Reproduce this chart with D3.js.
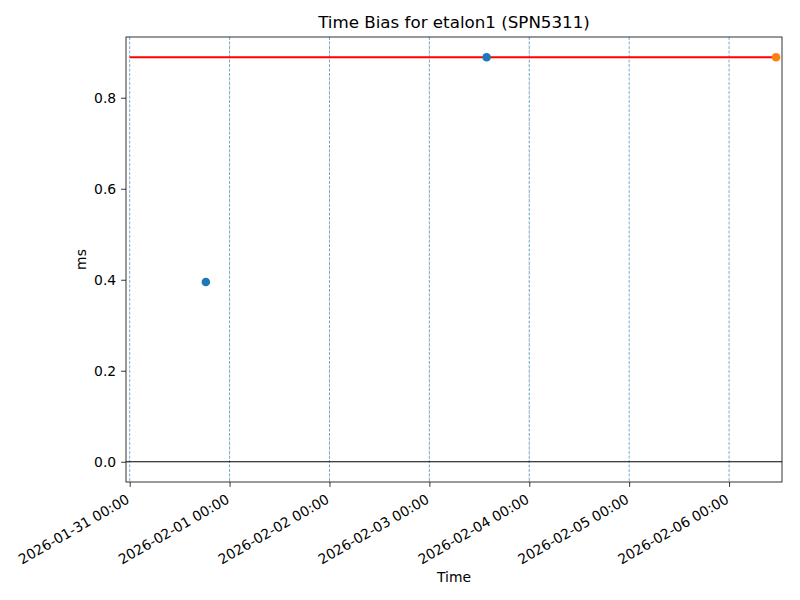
<!DOCTYPE html>
<html>
<head>
  <script src="https://d3js.org/d3.v7.min.js"></script>
  <style>
    body { margin: 0; background: #fff; }
    text { font-family: "DejaVu Sans", sans-serif; }
  </style>
</head>
<body>
  <svg width="800" height="600"></svg>
  <script>
    var parse = d3.utcParse("%Y-%m-%d %H:%M");

    // measurements
    var blueTimes = ["2026-01-31 18:18", "2026-02-03 13:45"];
    var blueValues = [0.395, 0.889];
    var orangeTimes = ["2026-02-06 11:17"];
    var orangeValues = [0.889];
    // reference level
    var refTimes = ["2026-01-31 00:00", "2026-02-06 11:17"];
    var refValues = [0.889, 0.889];
    var dayTicks = ["2026-01-31 00:00", "2026-02-01 00:00", "2026-02-02 00:00", "2026-02-03 00:00",
                    "2026-02-04 00:00", "2026-02-05 00:00", "2026-02-06 00:00"];
    var grayDays = ["2026-02-01 00:00", "2026-02-02 00:00", "2026-02-03 00:00", "2026-02-04 00:00"];
    var yTicks = [0.0, 0.2, 0.4, 0.6, 0.8];

    var svg = d3.select("svg"),
      margin = {top: 37, right: 18, bottom: 118, left: 126},
      width = +svg.attr("width") - margin.left - margin.right,
      height = +svg.attr("height") - margin.top - margin.bottom;

    var x = d3.scaleUtc()
      .domain([parse("2026-01-30 23:07"), parse("2026-02-06 12:43")])
      .range([0, width]);
    var y = d3.scaleLinear().domain([-0.0445, 0.9335]).range([height, 0]);

    var g = svg.append("g")
      .attr("transform", "translate(" + margin.left + "," + margin.top + ")");

    // day lines
    g.selectAll(".day").data(dayTicks).enter().append("line")
      .attr("x1", function(d) { return x(parse(d)); })
      .attr("x2", function(d) { return x(parse(d)); })
      .attr("y1", 0).attr("y2", height)
      .attr("stroke", "#1f77b4").attr("stroke-width", 0.8)
      .attr("stroke-opacity", 0.75)
      .attr("stroke-dasharray", "3,1.5");
    g.selectAll(".gday").data(grayDays).enter().append("line")
      .attr("x1", function(d) { return x(parse(d)); })
      .attr("x2", function(d) { return x(parse(d)); })
      .attr("y1", 0).attr("y2", height)
      .attr("stroke", "#888").attr("stroke-width", 0.5)
      .attr("stroke-dasharray", "2,2").attr("stroke-opacity", 0.5);

    // zero line
    g.append("line")
      .attr("x1", 0).attr("x2", width)
      .attr("y1", y(0)).attr("y2", y(0))
      .attr("stroke", "#000").attr("stroke-width", 1);

    // reference line
    var refData = refTimes.map(function(t, i) { return [parse(t), refValues[i]]; });
    g.append("path")
      .datum(refData)
      .attr("fill", "none").attr("stroke", "red").attr("stroke-width", 2)
      .attr("d", d3.line().x(function(d) { return x(d[0]); }).y(function(d) { return y(d[1]); }));

    g.selectAll(".blue").data(blueTimes).enter().append("circle")
      .attr("cx", function(d) { return x(parse(d)); })
      .attr("cy", function(d, i) { return y(blueValues[i]); })
      .attr("r", 4.3).attr("fill", "#1f77b4");
    g.selectAll(".orange").data(orangeTimes).enter().append("circle")
      .attr("cx", function(d) { return x(parse(d)); })
      .attr("cy", function(d, i) { return y(orangeValues[i]); })
      .attr("r", 4.3).attr("fill", "#ff7f0e");

    // axes
    var fmt = d3.utcFormat("%Y-%m-%d %H:%M");
    var xAxis = g.append("g")
      .attr("transform", "translate(0," + height + ")")
      .call(d3.axisBottom(x).tickValues(dayTicks.map(parse)).tickFormat(fmt)
        .tickSize(4.9).tickPadding(4.9));
    xAxis.selectAll("text")
      .attr("font-size", "13.9px").attr("fill", "#000")
      .attr("text-anchor", "end")
      .attr("x", 0).attr("y", 0).attr("dy", "0.76em")
      .attr("transform", "translate(-5,11) rotate(-30)");

    var yAxis = g.append("g")
      .call(d3.axisLeft(y).tickValues(yTicks).tickFormat(d3.format(".1f"))
        .tickSize(4.9).tickPadding(4.9));
    yAxis.selectAll("text").attr("font-size", "13.9px").attr("fill", "#000");
    [xAxis, yAxis].forEach(function(a) {
      a.select(".domain").remove();
      a.selectAll(".tick line").attr("stroke", "#000").attr("stroke-width", 0.8);
    });

    g.append("rect")
      .attr("width", width).attr("height", height)
      .attr("fill", "none").attr("stroke", "#000").attr("stroke-width", 0.8);

    svg.append("text")
      .attr("x", margin.left + width / 2).attr("y", 28)
      .attr("text-anchor", "middle").attr("font-size", "16.7px")
      .text("Time Bias for etalon1 (SPN5311)");
    svg.append("text")
      .attr("x", margin.left + width / 2).attr("y", 582)
      .attr("text-anchor", "middle").attr("font-size", "13.9px")
      .text("Time");
    svg.append("text")
      .attr("transform", "translate(86," + (margin.top + height / 2) + ") rotate(-90)")
      .attr("text-anchor", "middle").attr("font-size", "13.9px")
      .text("ms");
  </script>
</body>
</html>
